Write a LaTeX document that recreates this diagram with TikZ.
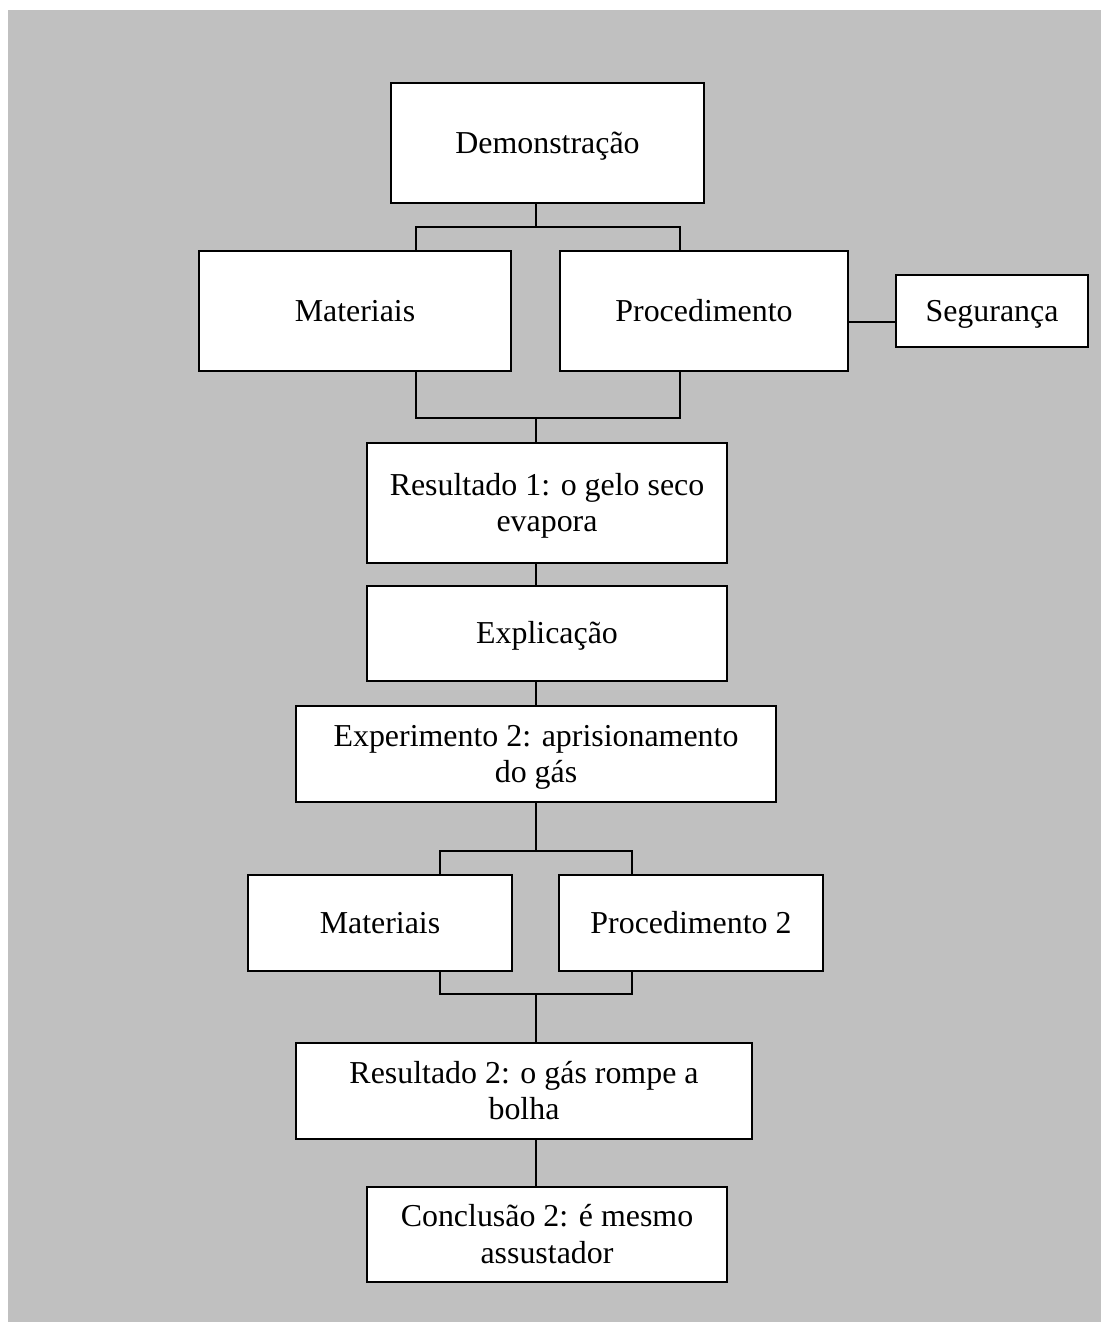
\documentclass[tikz,border=0pt]{standalone}
\usepackage{fontspec}
\setmainfont{Liberation Serif}
\definecolor{bggray}{RGB}{192,192,192}
\newcommand\strA{\rule{0pt}{28.9pt}}
\newcommand\strB{\rule[-8pt]{0pt}{0pt}}
\begin{document}
\begin{tikzpicture}[x=1pt,y=-1pt,
  box/.style={draw=black, fill=white, line width=1.9pt, rectangle, inner sep=0pt,
    align=center, font=\fontsize{31.9}{36.7}\selectfont},
  conn/.style={draw=black, line width=1.9pt}]
\useasboundingbox (0,0) rectangle (1101,1322);
\fill[bggray] (8,10) rectangle (1101,1322);

\node[box, minimum width=313pt, minimum height=120pt] (demo) at (547.5,143) {\strA Demonstração\strB};
\node[box, minimum width=312pt, minimum height=120pt] (mat1) at (355,311) {\strA Materiais\strB};
\node[box, minimum width=288pt, minimum height=120pt] (proc1) at (704,311) {\strA Procedimento\strB};
\node[box, minimum width=192pt, minimum height=72pt] (seg) at (992,311) {\strA Segurança\strB};
\node[box, minimum width=360pt, minimum height=120pt] (res1) at (547,503) {\strA Resultado 1: o gelo seco\\evapora\strB};
\node[box, minimum width=360pt, minimum height=95pt] (expl) at (547,633.5) {\strA Explicação\strB};
\node[box, minimum width=480pt, minimum height=96pt] (exp2) at (536,754) {\strA Experimento 2: aprisionamento\\do gás\strB};
\node[box, minimum width=264pt, minimum height=96pt] (mat2) at (380,923) {\strA Materiais\strB};
\node[box, minimum width=264pt, minimum height=96pt] (proc2) at (691,923) {\strA Procedimento 2\strB};
\node[box, minimum width=456pt, minimum height=96pt] (res2) at (524,1091) {\strA Resultado 2: o gás rompe a\\bolha\strB};
\node[box, minimum width=360pt, minimum height=95pt] (conc) at (547,1234.5) {\strA Conclusão 2: é mesmo\\assustador\strB};

\coordinate (sp) at (536,0);
\coordinate (b1) at (536,227);
\coordinate (b1l) at (416,227);
\coordinate (b1r) at (680,227);
\coordinate (b2) at (536,418);
\coordinate (b2l) at (416,418);
\coordinate (b2r) at (680,418);
\coordinate (segy) at (0,322);
\coordinate (b3) at (536,851);
\coordinate (b3l) at (440,851);
\coordinate (b3r) at (632,851);
\coordinate (b4) at (536,994);
\coordinate (b4l) at (440,994);
\coordinate (b4r) at (632,994);

\draw[conn] (demo.south -| b1) -- (b1);
\draw[conn] (mat1.north -| b1l) -- (b1l) -- (b1r) -- (proc1.north -| b1r);
\draw[conn] (mat1.south -| b2l) -- (b2l) -- (b2r) -- (proc1.south -| b2r);
\draw[conn] (b2) -- (res1.north -| b2);
\draw[conn] (proc1.east |- segy) -- (seg.west |- segy);
\draw[conn] (res1.south -| sp) -- (expl.north -| sp);
\draw[conn] (expl.south -| sp) -- (exp2.north -| sp);
\draw[conn] (exp2.south -| sp) -- (b3);
\draw[conn] (mat2.north -| b3l) -- (b3l) -- (b3r) -- (proc2.north -| b3r);
\draw[conn] (mat2.south -| b4l) -- (b4l) -- (b4r) -- (proc2.south -| b4r);
\draw[conn] (b4) -- (res2.north -| b4);
\draw[conn] (res2.south -| sp) -- (conc.north -| sp);
\end{tikzpicture}
\end{document}
